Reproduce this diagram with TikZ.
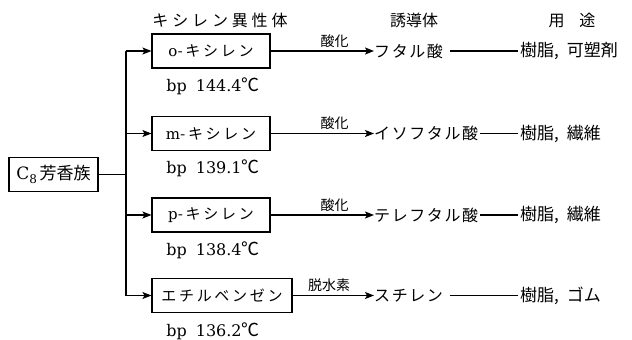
\documentclass[tikz,border=0pt]{standalone}
\usepackage{fontspec}
\newfontfamily\jp{Noto Sans CJK JP}
\newfontfamily\jpsp{Noto Sans CJK JP}[LetterSpace=18]
\newfontfamily\jpps{Noto Sans CJK JP}[LetterSpace=10]
\newfontfamily\jphd{Noto Sans CJK JP}[LetterSpace=24]
\newfontfamily\lat{DejaVu Serif}
\usetikzlibrary{arrows.meta,positioning}
\tikzset{
  box/.style={draw, line width=1.1pt, minimum height=34pt, inner sep=0pt, font=\jpsp\fontsize{15}{15}\selectfont},
  prod/.style={anchor=west, inner sep=0pt, font=\jpps\fontsize{16}{16}\selectfont},
  usetext/.style={anchor=west, inner sep=0pt, font=\jp\fontsize{17}{17}\selectfont},
  head/.style={inner sep=0pt, font=\jp\fontsize{16}{16}\selectfont},
  bptext/.style={inner sep=0pt, font=\lat\fontsize{16}{16}\selectfont},
  lab/.style={inner sep=0pt, font=\jp\fontsize{14}{14}\selectfont},
  conn/.style={line width=1.2pt},
  arr/.style={line width=1.2pt, -{Stealth[length=9pt,width=7pt,inset=2pt]}},
}
\newcommand{\degc}{{\jp\fontsize{18}{18}\selectfont ℃}}
\newcommand{\lt}[1]{{\lat\fontsize{15}{15}\selectfont #1}}
\begin{document}
\begin{tikzpicture}[x=1pt,y=-1pt]
\useasboundingbox (0,0) rectangle (632,340);
% headers
\node[head] (h1) at (220,20) {\jphd キシレン異性体};
\node[head] (h2) at (414,20) {誘導体};
\node[head] (h3) at (572,20) {用\hspace{15pt}途};
% C8 box
\node[box, minimum width=89pt, font=\lat\fontsize{17}{17}\selectfont] (c8) at (53.5,174.5) {C\raisebox{-4pt}{\fontsize{12}{12}\selectfont 8}\,{\jp\fontsize{17}{17}\selectfont 芳香族}};
% isomer boxes
\node[box, minimum width=118pt] (ox) at (211,51) {\lt{o}-キシレン};
\node[box, minimum width=118pt] (mx) at (211,133.5) {\lt{m}-キシレン};
\node[box, minimum width=118pt] (px) at (211,215) {\lt{p}-キシレン};
\node[box, minimum width=140pt] (eb) at (222,295.5) {エチルベンゼン};
% bp labels
\node[bptext] (bp1) at (213,86) {bp\hspace{9pt}144.4\degc};
\node[bptext] (bp2) at (213,168) {bp\hspace{9pt}139.1\degc};
\node[bptext] (bp3) at (213,250) {bp\hspace{9pt}138.4\degc};
\node[bptext] (bp4) at (213,331) {bp\hspace{9pt}136.2\degc};
% junction
\coordinate (jo) at (126,51);
\coordinate (jm) at (126,133.5);
\coordinate (jc) at (126,174.5);
\coordinate (jp) at (126,215);
\coordinate (je) at (126,295.5);
\draw[conn] (jo) -- (je);
\draw[conn] (c8.east) -- (jc);
\draw[arr] (jo) -- (ox.west);
\draw[arr] (jm) -- (mx.west);
\draw[arr] (jp) -- (px.west);
\draw[arr] (je) -- (eb.west);
% products
\node[prod] (fa) at (374,51) {フタル酸};
\node[prod] (ifa) at (374,133.5) {イソフタル酸};
\node[prod] (tfa) at (374,215) {テレフタル酸};
\node[prod] (st) at (374,295.5) {スチレン};
\draw[arr] (ox.east) -- node[lab, above=3pt, pos=0.62] (l1) {酸化} (fa.west);
\draw[arr] (mx.east) -- node[lab, above=3pt, pos=0.62] (l2) {酸化} (ifa.west);
\draw[arr] (px.east) -- node[lab, above=3pt, pos=0.62] (l3) {酸化} (tfa.west);
\draw[arr] (eb.east) -- node[lab, above=3pt, pos=0.45] (l4) {脱水素} (st.west);
% uses
\node[usetext] (u1) at (520,51) {樹脂,\hspace{8pt}可塑剤};
\node[usetext] (u2) at (520,133.5) {樹脂,\hspace{8pt}繊維};
\node[usetext] (u3) at (520,215) {樹脂,\hspace{8pt}繊維};
\node[usetext] (u4) at (520,295.5) {樹脂,\hspace{8pt}ゴム};
\draw[conn, shorten <=7pt, shorten >=2pt] (fa.east) -- (u1.west);
\draw[conn, shorten <=2pt, shorten >=2pt] (ifa.east) -- (u2.west);
\draw[conn, shorten <=2pt, shorten >=2pt] (tfa.east) -- (u3.west);
\draw[conn, shorten <=7pt, shorten >=2pt] (st.east) -- (u4.west);
\end{tikzpicture}
\end{document}
